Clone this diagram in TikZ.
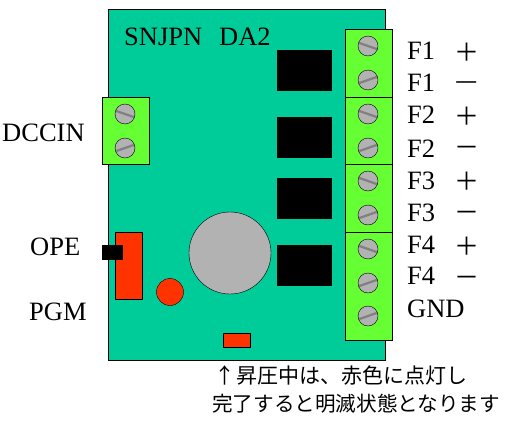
\documentclass[tikz,border=0pt]{standalone}
\usepackage{fontspec}
\setmainfont{Liberation Serif}
\newfontfamily\cjkfont{Noto Sans CJK JP}
\usetikzlibrary{positioning}
\definecolor{boardgreen}{RGB}{0, 204, 153}
\definecolor{blockgreen}{RGB}{102, 255, 51}
\definecolor{partred}{RGB}{255, 51, 0}
\definecolor{screwgray}{RGB}{178, 178, 178}
\definecolor{slotgray}{RGB}{128, 128, 128}
\tikzset{
  box/.style={draw=black, thick, rectangle, inner sep=0pt, outer sep=0pt},
  block/.style={box, fill=blockgreen, minimum width=47pt},
  chip/.style={fill=black, rectangle, inner sep=0pt, outer sep=0pt, minimum width=55pt, minimum height=41pt},
  screw/.style={draw=black, fill=screwgray, circle, inner sep=0pt, minimum size=20pt},
  slotdown/.style={screw, path picture={
    \draw[slotgray, line width=2.2pt] ([yshift=3.5pt]path picture bounding box.west) -- ([yshift=-3.5pt]path picture bounding box.east);}},
  slotup/.style={screw, path picture={
    \draw[slotgray, line width=2.2pt] ([yshift=-3.5pt]path picture bounding box.west) -- ([yshift=3.5pt]path picture bounding box.east);}},
  label/.style={inner sep=0pt, anchor=west, font=\fontsize{26.5}{26.5}\selectfont},
  sign/.style={inner sep=0pt, font=\cjkfont\fontsize{25}{25}\selectfont},
  note/.style={inner sep=0pt, anchor=west, font=\cjkfont\fontsize{20.6}{24}\selectfont}
}
\begin{document}
\begin{tikzpicture}[x=1pt, y=-1pt]
  \useasboundingbox (0, 0) rectangle (516, 428);
  \node[box, fill=boardgreen, minimum width=277pt, minimum height=351pt] (board) at (246.5, 184.5) {};

  \node[block, minimum height=67pt] (dcblock) at (125.5, 131) {};
  \node[block, minimum height=68pt] (f1block) at (368.5, 63) {};
  \node[block, minimum height=67pt] (f2block) at (368.5, 130.5) {};
  \node[block, minimum height=68pt] (f3block) at (368.5, 198) {};
  \node[block, minimum height=108pt] (f4block) at (368.5, 286) {};

  \node[slotdown] (dcscrew1) at (125, 114) {};
  \node[slotup] (dcscrew2) at (125, 148) {};
  \node[slotdown] (f1screw1) at (368, 46) {};
  \node[slotup] (f1screw2) at (368, 80) {};
  \node[slotdown] (f2screw1) at (368, 114) {};
  \node[slotup] (f2screw2) at (368, 148) {};
  \node[slotdown] (f3screw1) at (368, 181) {};
  \node[slotup] (f3screw2) at (368, 215) {};
  \node[slotdown] (f4screw1) at (368, 249) {};
  \node[slotup] (f4screw2) at (368, 283) {};
  \node[slotup] (gndscrew) at (368, 316) {};

  \node[chip] (chip1) at (304.5, 70.5) {};
  \node[chip] (chip2) at (304.5, 137.5) {};
  \node[chip] (chip3) at (304.5, 198.5) {};
  \node[chip] (chip4) at (304.5, 265.5) {};
  \node[draw=black, fill=screwgray, circle, inner sep=0pt, minimum size=82pt] (coil) at (230, 253) {};

  \node[box, fill=partred, minimum width=27pt, minimum height=67pt] (ledbar) at (128.5, 265.5) {};
  \node[fill=black, inner sep=0pt, minimum width=21pt, minimum height=15pt] (switch) at (112.5, 252.5) {};
  \node[draw=black, fill=partred, circle, inner sep=0pt, minimum size=27pt] (pgmled) at (170, 292) {};
  \node[box, fill=partred, minimum width=27pt, minimum height=14pt] (statusled) at (237, 340) {};

  \node[label] (title) at (124, 37) {SNJPN\hspace{17pt}DA2};
  \node[label] (dccin) at (2, 133) {DCCIN};
  \node[label] (ope) at (30, 247) {OPE};
  \node[label] (pgm) at (29, 312) {PGM};

  \node[label] (f1p) at (407, 51) {F1};
  \node[label] (f1m) at (407, 83) {F1};
  \node[label] (f2p) at (407, 115) {F2};
  \node[label] (f2m) at (407, 149) {F2};
  \node[label] (f3p) at (407, 181) {F3};
  \node[label] (f3m) at (407, 213) {F3};
  \node[label] (f4p) at (407, 245) {F4};
  \node[label] (f4m) at (407, 276) {F4};
  \node[label] (gnd) at (407, 309) {GND};

  \node[sign] (f1plus) at (467, 52) {＋};
  \node[sign] (f1minus) at (467, 86) {—};
  \node[sign] (f2plus) at (467, 116) {＋};
  \node[sign] (f2minus) at (467, 151) {－};
  \node[sign] (f3plus) at (467, 181) {＋};
  \node[sign] (f3minus) at (467, 216) {－};
  \node[sign] (f4plus) at (467, 246) {＋};
  \node[sign] (f4minus) at (467, 281) {－};

  \node[note, font=\cjkfont\fontsize{21}{24}\selectfont] (note1) at (214, 376) {↑\hspace{1pt}昇圧中は、赤色に点灯し};
  \node[note] (note2) at (212, 404) {完了すると明滅状態となります};
\end{tikzpicture}
\end{document}
